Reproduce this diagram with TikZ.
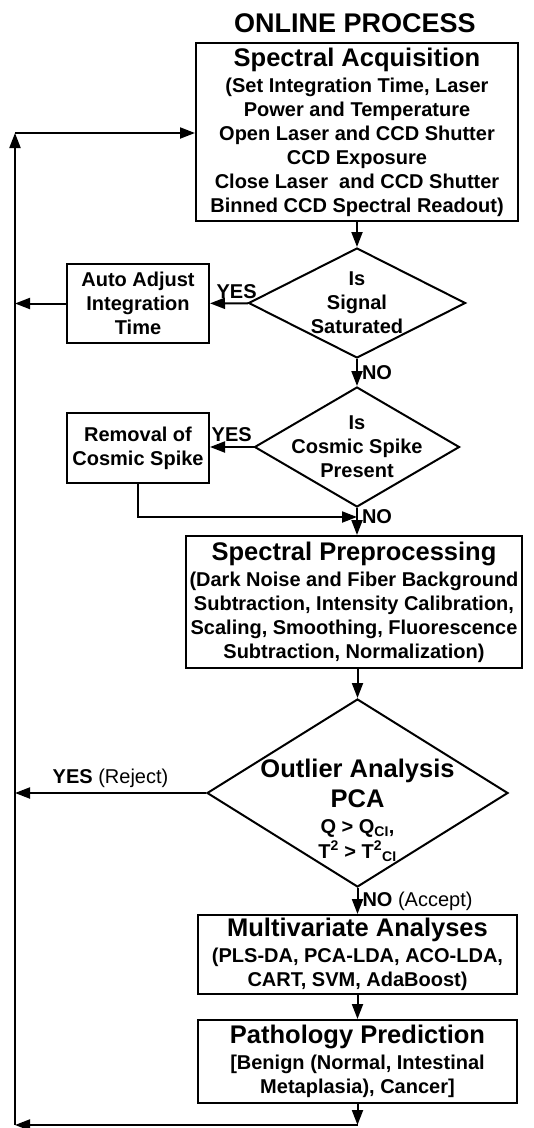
\documentclass[tikz,border=0pt]{standalone}
\usepackage{fontspec}
\setmainfont{Liberation Sans}
\usetikzlibrary{shapes.geometric, arrows.meta, positioning}

\newcommand{\bodyfont}{\bfseries\fontsize{20}{24}\selectfont}
\newcommand{\headfont}{\fontsize{25.5}{28}\selectfont}

\tikzset{
    box/.style={draw, rectangle, align=center, inner sep=2pt, font=\bodyfont},
    decision/.style={draw, diamond, inner sep=0pt},
    dtext/.style={align=center, font=\bodyfont, inner sep=0pt},
    lbl/.style={font=\bodyfont, inner sep=4pt},
    arr/.style={-{Triangle[length=15pt, width=11pt]}},
}

\begin{document}
\begin{tikzpicture}[x=1pt, y=-1pt, line width=2pt]
\useasboundingbox (0,0) rectangle (534,1128);

% Title.
\node[font=\bfseries\fontsize{27}{30}\selectfont] (title) at (355,23) {ONLINE PROCESS};

% Defining nodes.
\node[box, minimum width=322, minimum height=178] (acq) at (357,132) {{\headfont Spectral Acquisition}\\[2pt]
    (Set Integration Time, Laser\\ Power and Temperature\\ Open Laser and CCD Shutter\\
    CCD Exposure\\ Close Laser\ \ and CCD Shutter\\ Binned CCD Spectral Readout)};
\node[decision, minimum width=217, minimum height=110,
    label={[dtext]center:{Is\\Signal\\Saturated}}] (satur) at (357,303) {};
\node[box, minimum width=142, minimum height=79] (adjust) at (138,303.5) {Auto Adjust\\ Integration\\ Time};
\node[decision, minimum width=205, minimum height=120,
    label={[dtext]center:{Is\\Cosmic Spike\\Present}}] (spike) at (357,447) {};
\node[box, minimum width=142, minimum height=70] (removal) at (138,448) {Removal of\\ Cosmic Spike};
\node[box, minimum width=336, minimum height=132] (prep) at (354,602) {{\headfont Spectral Preprocessing}\\[2pt]
    (Dark Noise and Fiber Background\\ Subtraction, Intensity Calibration,\\
    Scaling, Smoothing, Fluorescence\\ Subtraction, Normalization)};
\node[decision, minimum width=301, minimum height=188,
    label={[dtext, yshift=-17pt]center:{{\headfont Outlier Analysis}\\[6pt]{\headfont PCA}\\[2pt]
    Q > Q\textsubscript{CI},\\[1pt] T\textsuperscript{2} > T\textsuperscript{2}\textsubscript{CI}}}] (outlier) at (357.5,793) {};
\node[box, minimum width=319, minimum height=79] (multi) at (357.5,954.5) {{\headfont Multivariate Analyses}\\[2pt]
    (PLS-DA, PCA-LDA, ACO-LDA,\\ CART, SVM, AdaBoost)};
\node[box, minimum width=319, minimum height=83] (predict) at (357.5,1061.5) {{\headfont Pathology Prediction}\\[2pt]
    [Benign (Normal, Intestinal\\ Metaplasia), Cancer]};

% Loop points.
\coordinate (join) at (357,517);
\coordinate (loopbot) at (15,1125);
\coordinate (looptop) at (15,133);

% Main flow.
\draw[arr] (acq) -- (satur);
\draw[arr] (satur) -- node[lbl, right] (no1) {NO} (spike);
\draw[arr] (satur) -- node[lbl, above, pos=0.3] (yes1) {YES} (adjust);
\draw[arr] (spike.west) -- node[lbl, above] (yes2) {YES} (spike.west -| removal.east);
\draw[arr] (removal) |- (join);
\node[lbl, right] (no2) at (join) {NO};
\draw[arr] (spike.south) -- (spike.south |- prep.north);
\draw[arr] (outlier.north |- prep.south) -- (outlier.north);
\draw[arr] (outlier.south) -- node[lbl, right] (no3) {NO \mdseries(Accept)} (multi.north);
\draw[arr] (multi) -- (predict);

% Feedback loop.
\draw[arr] (adjust.west) -- (adjust.west -| looptop);
\draw[arr] (outlier.west) -- node[lbl, above] (yes3) {YES \mdseries(Reject)} (outlier.west -| looptop);
\draw[arr] (predict.south) -- (predict.south |- loopbot);
\draw[arr] (predict.south |- loopbot) -- (loopbot);
\draw[arr] (loopbot) -- (looptop);
\draw[arr] (looptop) -- (looptop -| acq.west);

\end{tikzpicture}
\end{document}
